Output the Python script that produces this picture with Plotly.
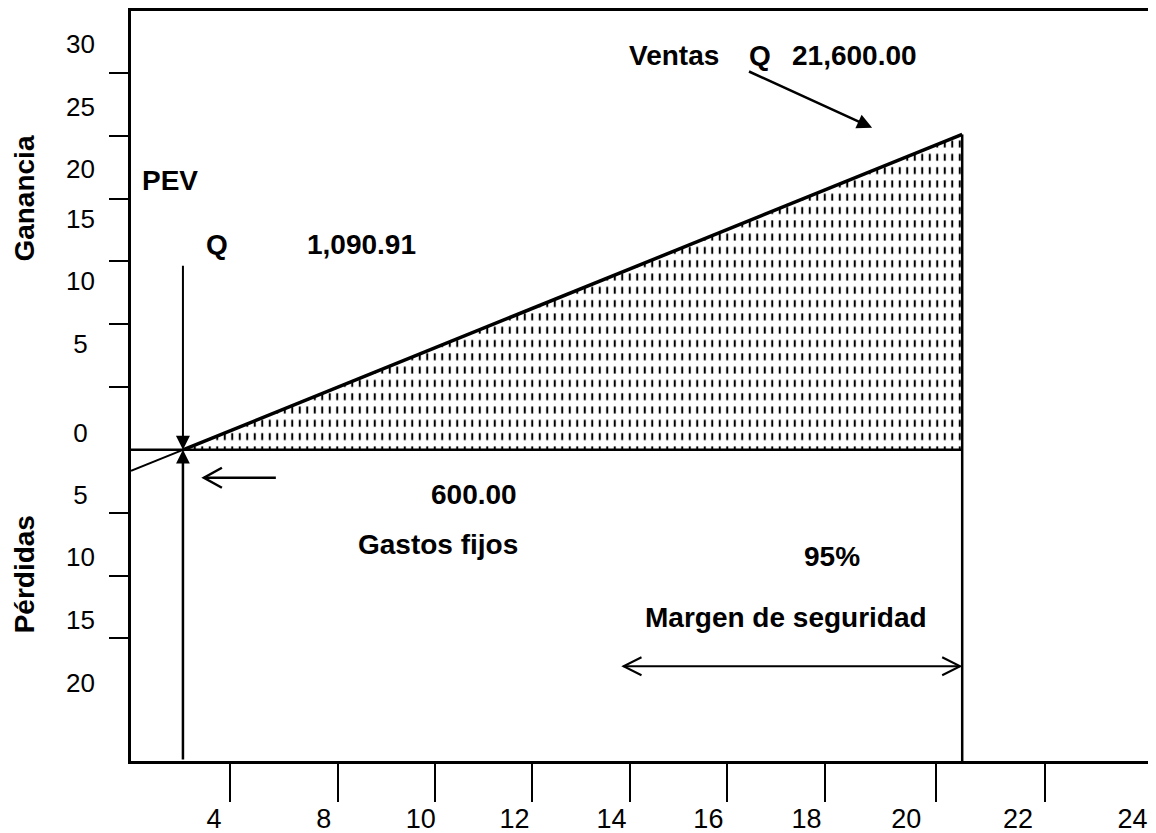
import plotly.graph_objects as go

# ---------------- data ----------------
BREAKEVEN_Q = 1090.91          # PEV  (Q 1,090.91)
SALES_Q = 21600.00             # Ventas Q 21,600.00
APEX_Y = 25.1                  # height of the sales line at the sales point
FIXED_COSTS = 600.00
SAFETY_MARGIN_PCT = 95

X_RANGE = [-276, 26648]
Y_RANGE = [-24.76, 34.92]

X_TICK_POS = [2330, 5170, 7720, 10290, 12870, 15420, 18000, 20920, 23780, 26600]
X_LABEL_POS = [1910, 4800, 7350, 9820, 12370, 14920, 17500, 20130, 23070, 26080]
X_LABELS = ["4", "8", "10", "12", "14", "16", "18", "20", "22", "24"]

Y_TICK_POS = [30, 25, 20, 15, 10, 5, -5, -10, -15]
Y_LABEL_POS = [32.34, 27.25, 22.36, 18.39, 13.45, 8.47, 1.32, -3.57, -8.53, -13.56, -18.58]
Y_LABELS = ["30", "25", "20", "15", "10", "5", "0", "5", "10", "15", "20"]

SALES_LINE_X = [-276, BREAKEVEN_Q, SALES_Q]
SALES_LINE_Y = [-1.67, 0, APEX_Y]

PEV_ARROW_TOP = 14.76
VENTAS_ARROW_X = [15950, 19230]
VENTAS_ARROW_Y = [30.16, 25.63]
FIXED_ARROW_X = [3536, 1643]
FIXED_ARROW_Y = -2.22
MARGIN_ARROW_X = [12686, 21547]
MARGIN_ARROW_Y = -17.22

FONT = "Liberation Sans, Arial, sans-serif"
BOLD = 28

fig = go.Figure()

AREA_X = [BREAKEVEN_Q, SALES_Q, SALES_Q, BREAKEVEN_Q]
AREA_Y = [0, APEX_Y, 0, 0]

# hatched profit area: vertical lines broken into dashes by white horizontal bands
fig.add_trace(go.Scatter(
    x=AREA_X, y=AREA_Y, mode="lines", fill="toself",
    line=dict(width=0, color="rgba(0,0,0,0)"), fillcolor="rgba(0,0,0,0)",
    fillpattern=dict(shape="|", size=7.5, solidity=0.27, fgcolor="black", fgopacity=1),
    hoverinfo="skip", showlegend=False))
fig.add_trace(go.Scatter(
    x=AREA_X, y=AREA_Y, mode="lines", fill="toself",
    line=dict(width=0, color="rgba(0,0,0,0)"), fillcolor="rgba(0,0,0,0)",
    fillpattern=dict(shape="-", size=13.3, solidity=0.48, fgcolor="white", fgopacity=1),
    hoverinfo="skip", showlegend=False))

# zero line
fig.add_trace(go.Scatter(x=[X_RANGE[0], SALES_Q], y=[0, 0], mode="lines",
                         line=dict(color="black", width=2.5), hoverinfo="skip", showlegend=False))
# sales line (thin before PEV, thick after)
fig.add_trace(go.Scatter(x=SALES_LINE_X[:2], y=SALES_LINE_Y[:2], mode="lines",
                         line=dict(color="black", width=2), hoverinfo="skip", showlegend=False))
fig.add_trace(go.Scatter(x=SALES_LINE_X[1:], y=SALES_LINE_Y[1:], mode="lines",
                         line=dict(color="black", width=3.5), hoverinfo="skip", showlegend=False))
# vertical at sales
fig.add_trace(go.Scatter(x=[SALES_Q, SALES_Q], y=[APEX_Y, Y_RANGE[0]], mode="lines",
                         line=dict(color="black", width=2.5), hoverinfo="skip", showlegend=False))
# arrow shafts (open-head arrows)
fig.add_trace(go.Scatter(x=FIXED_ARROW_X, y=[FIXED_ARROW_Y] * 2, mode="lines",
                         line=dict(color="black", width=2.5), hoverinfo="skip", showlegend=False))
fig.add_trace(go.Scatter(x=MARGIN_ARROW_X, y=[MARGIN_ARROW_Y] * 2, mode="lines",
                         line=dict(color="black", width=2), hoverinfo="skip", showlegend=False))
# dummy trace for overlay axes
fig.add_trace(go.Scatter(x=[None], y=[None], xaxis="x2", yaxis="y2", mode="markers",
                         hoverinfo="skip", showlegend=False))

annotations = []
# filled arrows
annotations.append(dict(x=BREAKEVEN_Q, y=0, ax=BREAKEVEN_Q, ay=PEV_ARROW_TOP, xref="x", yref="y",
                        axref="x", ayref="y", text="", showarrow=True, arrowhead=2, arrowsize=1.4,
                        arrowwidth=2, arrowcolor="black", standoff=0))
annotations.append(dict(x=BREAKEVEN_Q, y=0, ax=BREAKEVEN_Q, ay=Y_RANGE[0], xref="x", yref="y",
                        axref="x", ayref="y", text="", showarrow=True, arrowhead=2, arrowsize=1.1,
                        arrowwidth=2.5, arrowcolor="black", standoff=0))
annotations.append(dict(x=VENTAS_ARROW_X[1], y=VENTAS_ARROW_Y[1], ax=VENTAS_ARROW_X[0],
                        ay=VENTAS_ARROW_Y[0], xref="x", yref="y", axref="x", ayref="y", text="",
                        showarrow=True, arrowhead=2, arrowsize=1.2, arrowwidth=2.5,
                        arrowcolor="black", standoff=0))

def label(text, x, y, anchor="left"):
    annotations.append(dict(x=x, y=y, xref="x", yref="y", text="<b>%s</b>" % text,
                            showarrow=False, xanchor=anchor, yanchor="middle",
                            font=dict(family=FONT, size=BOLD, color="black")))

label("PEV", -40, 21.43)
label("Q", 1643, 16.35)
label("1,090.91", 7270, 16.35, "right")
label("Ventas", 12765, 31.35)
label("Q", 15946, 31.35)
label("{:,.2f}".format(SALES_Q), 17077, 31.35)
label("{:,.2f}".format(FIXED_COSTS), 7559, -3.57)
label("Gastos fijos", 5640, -7.54)
label("%d%%" % SAFETY_MARGIN_PCT, 17393, -8.49)
label("Margen de seguridad", 13212, -13.33)

# axis titles
for txt, yv in [("Ganancia", 20.0), ("Pérdidas", -9.9)]:
    annotations.append(dict(x=-0.1045, y=yv, xref="paper", yref="y", text="<b>%s</b>" % txt,
                            textangle=-90, showarrow=False, xanchor="center", yanchor="middle",
                            font=dict(family=FONT, size=BOLD, color="black")))

shapes = [
    # partial right border
    dict(type="line", xref="paper", yref="paper", x0=1, x1=1, y0=0.3085, y1=0.8936,
         line=dict(color="black", width=2)),
    # open chevron heads
    dict(type="path", xref="x", yref="y", xsizemode="pixel", ysizemode="pixel",
         xanchor=FIXED_ARROW_X[1], yanchor=FIXED_ARROW_Y, path="M18,10 L0,0 L18,-10",
         line=dict(color="black", width=2.5), fillcolor="rgba(0,0,0,0)"),
    dict(type="path", xref="x", yref="y", xsizemode="pixel", ysizemode="pixel",
         xanchor=MARGIN_ARROW_X[0], yanchor=MARGIN_ARROW_Y, path="M18,9 L0,0 L18,-9",
         line=dict(color="black", width=2), fillcolor="rgba(0,0,0,0)"),
    dict(type="path", xref="x", yref="y", xsizemode="pixel", ysizemode="pixel",
         xanchor=MARGIN_ARROW_X[1], yanchor=MARGIN_ARROW_Y, path="M-18,9 L0,0 L-18,-9",
         line=dict(color="black", width=2), fillcolor="rgba(0,0,0,0)"),
]

y_ticktext = [t if len(t) > 1 else t + "\u00a0" for t in Y_LABELS]

# the page body has an 8px margin, so the figure is 8px smaller and margins shifted
fig.update_layout(
    template="none",
    width=1148, height=825,
    margin=dict(l=123, r=2, t=3, b=72, autoexpand=False),
    paper_bgcolor="white", plot_bgcolor="white", showlegend=False,
    font=dict(family=FONT, color="black"),
    xaxis=dict(range=X_RANGE, tickmode="array", tickvals=X_TICK_POS, ticks="outside",
               ticklen=38, tickwidth=2, tickcolor="black", showticklabels=False,
               showline=True, linecolor="black", linewidth=2.5, mirror=True,
               showgrid=False, zeroline=False, automargin=False),
    xaxis2=dict(range=X_RANGE, overlaying="x", anchor="y", side="bottom", tickmode="array",
                tickvals=X_LABEL_POS, ticktext=X_LABELS, ticks="", showline=False,
                showgrid=False, zeroline=False, ticklabelstandoff=39, automargin=False,
                tickfont=dict(family=FONT, size=27, color="black")),
    yaxis=dict(range=Y_RANGE, tickmode="array", tickvals=Y_TICK_POS, ticks="outside",
               ticklen=19, tickwidth=2, tickcolor="black", showticklabels=False,
               showline=True, linecolor="black", linewidth=2.5, showgrid=False,
               zeroline=False, automargin=False),
    yaxis2=dict(range=Y_RANGE, overlaying="y", anchor="x", side="left", tickmode="array",
                tickvals=Y_LABEL_POS, ticktext=y_ticktext, ticks="", showline=False,
                showgrid=False, zeroline=False, ticklabelstandoff=35, automargin=False,
                tickfont=dict(family=FONT, size=26, color="black")),
    annotations=annotations,
    shapes=shapes,
)

fig.write_html("out.html")
